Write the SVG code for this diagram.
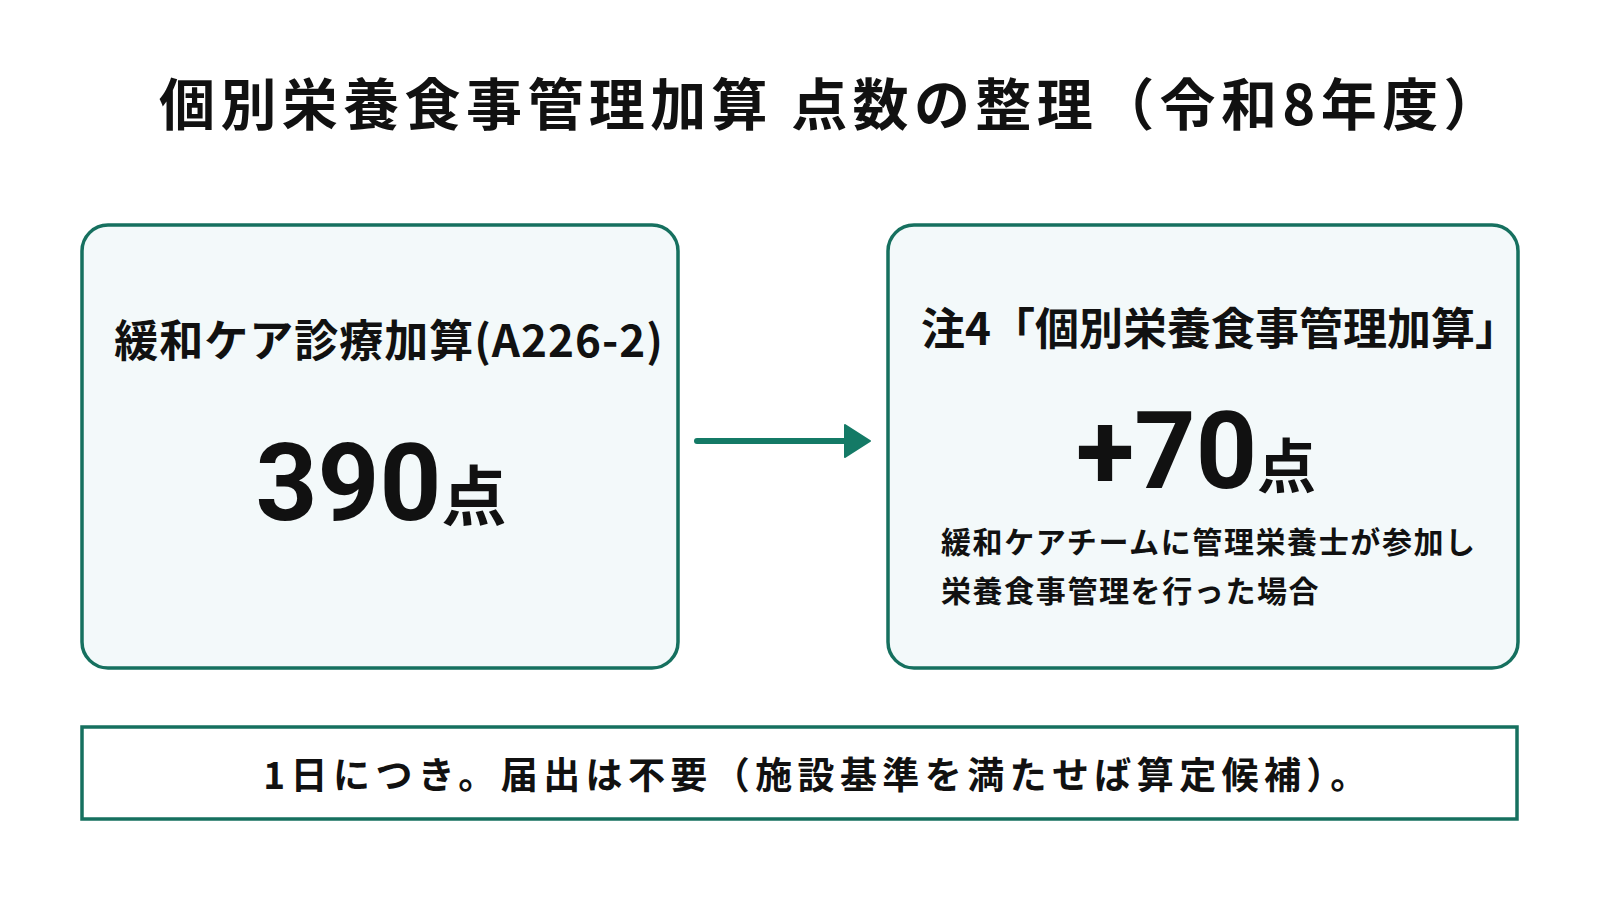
<svg xmlns="http://www.w3.org/2000/svg" width="1600" height="900" viewBox="0 0 1600 900">
<style>
.t{font-family:"Noto Sans CJK JP","Noto Sans",sans-serif;font-weight:700;fill:#111;}
.box{fill:#f3f9fa;stroke:#16705f;stroke-width:3.5;}
.note{fill:#ffffff;stroke:#16705f;stroke-width:3.5;}
.conn{stroke:#147a66;stroke-width:6;stroke-linecap:round;fill:none;}
</style>
<rect width="1600" height="900" fill="#ffffff"/>
<g id="title">
<text class="t" x="832" y="125" font-size="56" text-anchor="middle" letter-spacing="5.4">個別栄養食事管理加算 点数の整理（令和8年度）</text>
</g>
<g id="node-left">
<rect class="box" x="82" y="225" width="596" height="443" rx="26"/>
<text class="t" x="389" y="357" font-size="44" text-anchor="middle" letter-spacing="1">緩和ケア診療加算(A226-2)</text>
<text class="t" x="381" y="520" text-anchor="middle"><tspan font-size="108" font-family="Roboto,'Liberation Sans',sans-serif">390</tspan><tspan font-size="65">点</tspan></text>
</g>
<g id="node-right">
<rect class="box" x="888" y="225" width="630" height="443" rx="26"/>
<text class="t" x="1220" y="345" font-size="44" text-anchor="middle">注4「個別栄養食事管理加算」</text>
<text class="t" x="1196" y="488" text-anchor="middle"><tspan font-size="107" font-family="Roboto,'Liberation Sans',sans-serif">+70</tspan><tspan font-size="59">点</tspan></text>
<text class="t" x="941" y="553" font-size="30" letter-spacing="1.6">緩和ケアチームに管理栄養士が参加し</text>
<text class="t" x="941" y="602" font-size="30" letter-spacing="1.6">栄養食事管理を行った場合</text>
</g>
<g id="note">
<rect class="note" x="82" y="727" width="1435" height="92"/>
<text class="t" x="818" y="789" font-size="37" text-anchor="middle" letter-spacing="5.4">1日につき。届出は不要（施設基準を満たせば算定候補）。</text>
</g>
<g id="connectors">
<line class="conn" x1="697" y1="441" x2="848" y2="441"/>
<polygon points="845,425 870,441 845,457" fill="#147a66" stroke="#147a66" stroke-width="2" stroke-linejoin="round"/>
</g>
</svg>
